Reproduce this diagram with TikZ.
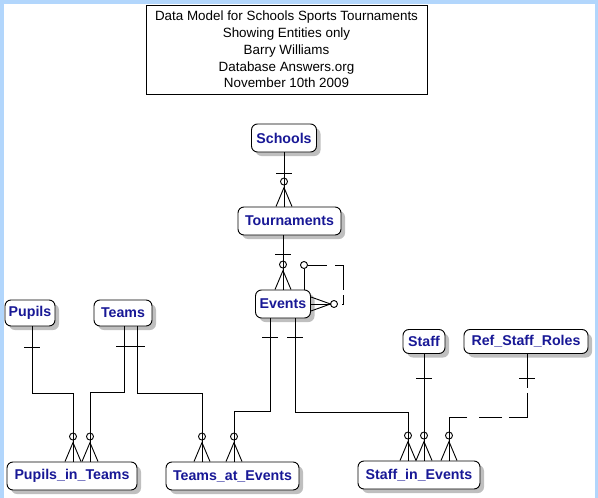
\documentclass[tikz,border=0pt]{standalone}
\usepackage{fontspec}
\setmainfont{Liberation Sans}
\usetikzlibrary{calc,shadows}
\definecolor{bgblue}{RGB}{178,214,252}
\definecolor{entblue}{RGB}{24,24,150}
\tikzset{
  conn/.style={draw=black, line width=0.9pt},
  entity/.style={draw=black, line width=0.9pt, rounded corners=6pt, fill=white,
    font=\fontsize{14.2}{14.2}\bfseries\selectfont, text=entblue, inner sep=0pt,
    drop shadow={shadow xshift=4pt, shadow yshift=-4pt, fill=black, opacity=0.25}},
  titlebox/.style={draw=black, line width=0.9pt, fill=white, align=center, inner sep=0pt,
    font=\fontsize{13.4}{16.8}\selectfont},
  onebar/.pic={\draw[conn] (-8pt,0pt) -- (8pt,0pt);},
  zmany/.pic={\draw[conn] (0pt,25pt) circle[radius=3.5pt];
              \draw[conn] (-8pt,0pt) -- (0pt,19pt) -- (8pt,0pt);}
}
\begin{document}
\begin{tikzpicture}[x=1pt,y=-1pt]
\fill[bgblue] (0,0) rectangle (598,498);
\fill[white] (4,4) rectangle (595,498);
\useasboundingbox (0,0) rectangle (598,498);

\node[titlebox, minimum width=281pt, minimum height=89pt] (title) at (286.5,49.5)
  {Data Model for Schools Sports Tournaments\\Showing Entities only\\Barry Williams\\Database Answers.org\\November 10th 2009};

% entities
\node[entity, minimum width=65pt, minimum height=28pt] (Schools) at (284,138) {Schools};
\node[entity, minimum width=103pt, minimum height=28pt] (Tour) at (289.5,221) {Tournaments};
\node[entity, minimum width=55pt, minimum height=28pt] (Events) at (283,304) {Events};
\node[entity, minimum width=50pt, minimum height=26pt] (Pupils) at (30,313) {Pupils};
\node[entity, minimum width=58pt, minimum height=26pt] (Teams) at (123,313) {Teams};
\node[entity, minimum width=42pt, minimum height=24pt] (Staff) at (424,341.5) {Staff};
\node[entity, minimum width=124pt, minimum height=24pt] (Ref) at (526,341.5) {Ref\_Staff\_Roles};
\node[entity, minimum width=130pt, minimum height=28pt] (PiT) at (72,476) {Pupils\_in\_Teams};
\node[entity, minimum width=133pt, minimum height=28pt] (TaE) at (232.5,476) {Teams\_at\_Events};
\node[entity, minimum width=122pt, minimum height=28pt] (SiE) at (419,475) {Staff\_in\_Events};

% bend points
\coordinate (s1) at (304,265);
\coordinate (s2) at (343,265);
\coordinate (s3) at (343,304);
\coordinate (s4) at (334,304);
\coordinate (pp) at (73,393);
\coordinate (tp) at (90,392);
\coordinate (tt) at (202,393);
\coordinate (et) at (234,411);
\coordinate (es) at (408,412);
\coordinate (rs) at (449,417);

% Schools -> Tournaments
\draw[conn] (Schools.south) -- (Schools.south |- Tour.north);
\pic at ($(Schools.south)+(0,21)$) {onebar};
\pic at (Schools.south |- Tour.north) {zmany};

% Tournaments -> Events
\draw[conn] (Events.north |- Tour.south) -- (Events.north);
\pic at ($(Events.north |- Tour.south)+(0,19)$) {onebar};
\pic at (Events.north) {zmany};

% Events recursive
\draw[conn] (Events.north -| s1) -- ($(s1)+(0,3.5)$);
\draw[conn] (s1) circle[radius=3.5pt];
\draw[conn, dash pattern=on 19.5pt off 8pt on 33pt off 5pt on 10pt off 10pt]
  ($(s1)+(3.5,0)$) -- (s2) -- (s3) -- ($(s4)+(3.5,0)$);
\draw[conn] (s4) circle[radius=3.5pt];
\draw[conn] ($(Events.east)+(0,-7)$) -- ($(s4)+(-3.5,0)$) -- ($(Events.east)+(0,7)$);
\draw[conn] (Events.east) -- ($(s4)+(-3.5,0)$);

% Pupils -> Pupils_in_Teams
\draw[conn] ($(Pupils.south)+(2,0)$) |- (pp) -- (pp |- PiT.north);
\pic at ($(Pupils.south)+(2,21)$) {onebar};
\pic at (pp |- PiT.north) {zmany};

% Teams -> Pupils_in_Teams
\draw[conn] ($(Teams.south)+(1,0)$) |- (tp) -- (tp |- PiT.north);
\pic at ($(Teams.south)+(1,20)$) {onebar};
\pic at (tp |- PiT.north) {zmany};

% Teams -> Teams_at_Events
\draw[conn] ($(Teams.south)+(14,0)$) |- (tt) -- (tt |- TaE.north);
\pic at ($(Teams.south)+(14,20)$) {onebar};
\pic at (tt |- TaE.north) {zmany};

% Events -> Teams_at_Events
\draw[conn] ($(Events.south)+(-13,0)$) |- (et) -- (et |- TaE.north);
\pic at ($(Events.south)+(-13,19)$) {onebar};
\pic at (et |- TaE.north) {zmany};

% Events -> Staff_in_Events
\draw[conn] ($(Events.south)+(12,0)$) |- (es) -- (es |- SiE.north);
\pic at ($(Events.south)+(12,19)$) {onebar};
\pic at (es |- SiE.north) {zmany};

% Staff -> Staff_in_Events
\draw[conn] (Staff.south) -- (Staff.south |- SiE.north);
\pic at ($(Staff.south)+(0,24)$) {onebar};
\pic at (Staff.south |- SiE.north) {zmany};

% Ref_Staff_Roles -> Staff_in_Events (non-identifying, dashed)
\draw[conn, dash pattern=on 34pt off 5pt on 42pt off 7pt on 23pt off 12pt on 100pt]
  ($(Ref.south)+(1,0)$) |- (rs) -- (rs |- SiE.north);
\pic at ($(Ref.south)+(1,24)$) {onebar};
\pic at (rs |- SiE.north) {zmany};
\end{tikzpicture}
\end{document}
